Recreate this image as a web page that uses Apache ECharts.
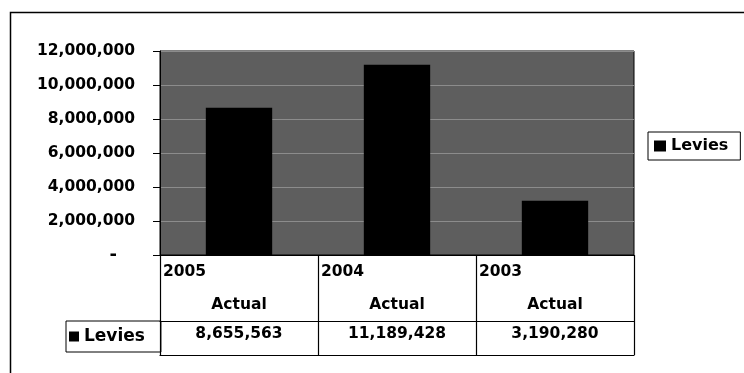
<!DOCTYPE html>
<html>
<head>
<meta charset="utf-8">
<script src="https://cdn.jsdelivr.net/npm/echarts@6/dist/echarts.min.js"></script>
<style>
html,body{margin:0;padding:0;background:#fff;}
#c{width:744px;height:373px;}
</style>
</head>
<body>
<div id="c"></div>
<script>
const categories = ['2005', '2004', '2003'];
const subLabel = 'Actual';
const seriesName = 'Levies';
const levies = [8655563, 11189428, 3190280];
const yMin = 0, yMax = 12000000, yStep = 2000000;

function fmt(n) {
  return String(Math.round(n)).replace(/\B(?=(\d{3})+(?!\d))/g, ',');
}
const FONT = 'DejaVu Sans';
const FS = 15.5;

const chart = echarts.init(document.getElementById('c'), null, {renderer: 'canvas'});
chart.setOption({
  animation: false,
  backgroundColor: '#fff',
  textStyle: {fontFamily: FONT, fontWeight: 'bold', color: '#000'},
  graphic: [{
    type: 'rect', silent: true,
    shape: {x: 10.5, y: 12.5, width: 800, height: 400},
    style: {fill: 'none', stroke: '#000', lineWidth: 1.5}
  }],
  grid: {
    left: 160, right: 110, top: 51, bottom: 118,
    show: true, backgroundColor: '#5e5e5e', borderColor: '#000', borderWidth: 1
  },
  legend: [{
    left: 648, top: 132,
    data: [seriesName],
    orient: 'vertical',
    borderColor: '#000', borderWidth: 1,
    padding: [6, 12, 6, 6],
    itemWidth: 12, itemHeight: 11,
    icon: 'rect',
    textStyle: {fontFamily: FONT, fontWeight: 'bold', fontSize: 16, color: '#000'}
  }, {
    left: 66, top: 321,
    data: [seriesName],
    orient: 'vertical',
    borderColor: '#000', borderWidth: 1,
    padding: [7, 16, 7, 3],
    itemWidth: 10, itemHeight: 10,
    icon: 'rect',
    textStyle: {fontFamily: FONT, fontWeight: 'bold', fontSize: 17, color: '#000'}
  }],
  xAxis: [{
    type: 'category',
    data: categories,
    position: 'bottom',
    axisLine: {show: true, lineStyle: {color: '#000', width: 1}},
    axisTick: {show: true, length: 100, lineStyle: {color: '#000', width: 1.2}},
    splitLine: {show: false},
    axisLabel: {
      margin: 0,
      interval: 0,
      formatter: function (v) { return '{y|' + v + '}\n{a|' + subLabel + '}'; },
      rich: {
        y: {width: 152, align: 'left', fontFamily: FONT, fontWeight: 'bold', fontSize: FS, lineHeight: 33, color: '#000'},
        a: {width: 152, align: 'center', fontFamily: FONT, fontWeight: 'bold', fontSize: FS, lineHeight: 33, color: '#000'}
      }
    }
  }, {
    type: 'category',
    data: categories,
    position: 'bottom',
    offset: 66,
    axisLine: {show: true, lineStyle: {color: '#000', width: 1.2}},
    axisTick: {show: false},
    axisLabel: {
      margin: 3, interval: 0,
      lineHeight: 20,
      fontFamily: FONT, fontWeight: 'bold', fontSize: FS, color: '#000',
      formatter: function (v, i) { return fmt(levies[i]); }
    }
  }, {
    type: 'category',
    data: categories,
    position: 'bottom',
    offset: 100,
    axisLine: {show: true, lineStyle: {color: '#000', width: 1.2}},
    axisTick: {show: false},
    axisLabel: {show: false}
  }],
  yAxis: {
    type: 'value',
    min: yMin, max: yMax, interval: yStep,
    axisLine: {show: true, lineStyle: {color: '#000'}},
    axisTick: {show: true, length: 7, lineStyle: {color: '#000'}},
    splitLine: {show: true, lineStyle: {color: '#8c8c8c', width: 1}},
    axisLabel: {
      margin: 25,
      fontFamily: FONT, fontWeight: 'bold', fontSize: FS, color: '#000',
      formatter: function (v) { return v === 0 ? '{d|-}' : fmt(v); },
      rich: {d: {fontFamily: FONT, fontWeight: 'bold', fontSize: 18, color: '#000', padding: [0, 18, 0, 0]}}
    }
  },
  series: [{
    name: seriesName,
    type: 'bar',
    data: levies,
    barWidth: '42%',
    itemStyle: {color: '#000'}
  }]
});
</script>
</body>
</html>
